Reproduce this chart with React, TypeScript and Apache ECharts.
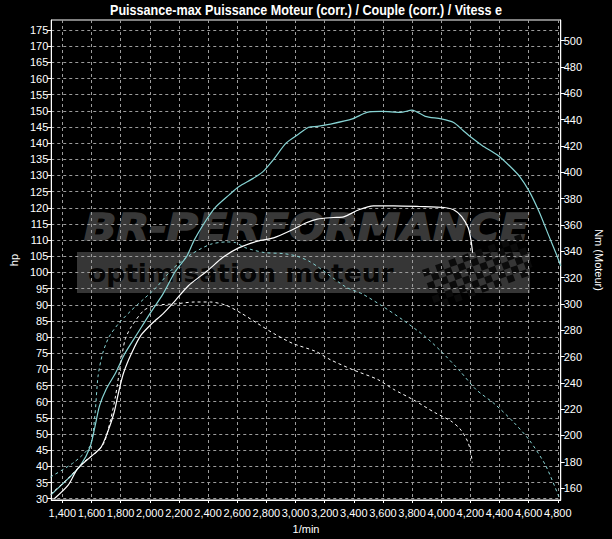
import React, { useEffect, useRef } from "react";
import * as echarts from "echarts";

const TITLE = "Puissance-max Puissance Moteur (corr.) / Couple (corr.) / Vitess e";
const X_NAME = "1/min";
const Y_LEFT_NAME = "hp";
const Y_RIGHT_NAME = "Nm (Moteur)";

const X_TICKS = [1400, 1600, 1800, 2000, 2200, 2400, 2600, 2800, 3000, 3200, 3400, 3600, 3800, 4000, 4200, 4400, 4600, 4800];
const HP_TICKS = [30, 35, 40, 45, 50, 55, 60, 65, 70, 75, 80, 85, 90, 95, 100, 105, 110, 115, 120, 125, 130, 135, 140, 145, 150, 155, 160, 165, 170, 175];
const NM_TICKS = [160, 180, 200, 220, 240, 260, 280, 300, 320, 340, 360, 380, 400, 420, 440, 460, 480, 500];

// Power after (cyan solid), hp
const rpmPowerAfter = [1324, 1440, 1525, 1590, 1625, 1655, 1700, 1765, 1830, 1915, 2000, 2090, 2175, 2255, 2305, 2370, 2450, 2545, 2610, 2710, 2775, 2850, 2935, 3015, 3090, 3150, 3240, 3390, 3490, 3590, 3720, 3800, 3890, 4000, 4085, 4150, 4205, 4280, 4390, 4475, 4540, 4605, 4670, 4735, 4790, 4820];
const hpPowerAfter = [31.3, 36.2, 40.3, 45.9, 52.5, 58.7, 63.8, 68.9, 75, 81.1, 87.2, 93.3, 100.3, 105.1, 110, 115, 120.1, 124, 126.5, 129.1, 131.1, 135, 140, 142.6, 144.9, 145.2, 145.9, 147.5, 149.5, 149.8, 149.5, 150.2, 148.3, 147.5, 146.4, 143.9, 141.8, 139.3, 136.2, 132.7, 129.6, 125, 118.9, 111.7, 105.6, 102];

// Power before (white solid), hp
const rpmPowerBefore = [1345, 1440, 1505, 1590, 1665, 1710, 1755, 1785, 1820, 1875, 1940, 2015, 2090, 2175, 2265, 2395, 2500, 2610, 2740, 2850, 2960, 3070, 3150, 3260, 3330, 3435, 3535, 3675, 3850, 4020, 4085, 4140, 4185, 4205, 4215];
const hpPowerBefore = [30, 34.2, 39.3, 42.8, 45.9, 50.5, 56.6, 62.7, 68.9, 75, 80.6, 84.2, 87.2, 91.3, 95.9, 100.5, 104.6, 107.6, 109.7, 110.7, 112.8, 115.3, 116.5, 117, 117.2, 119.4, 120.6, 120.6, 120.4, 120.1, 119.4, 117.3, 113.8, 109.7, 106.1];

// Torque after (cyan dashed), Nm
const rpmTorqueAfter = [1319, 1482, 1591, 1623, 1645, 1677, 1721, 1786, 1873, 1960, 2046, 2155, 2285, 2416, 2524, 2589, 2654, 2784, 2914, 3001, 3088, 3175, 3348, 3457, 3587, 3739, 3891, 4000, 4130, 4238, 4369, 4499, 4607, 4716, 4807];
const nmTorqueAfter = [168.5, 179.8, 192.3, 214.9, 245, 262.5, 275, 285, 295, 303.8, 312.6, 326.4, 337.7, 345.2, 347, 346.5, 342.7, 339, 338.2, 336.5, 332.7, 326.4, 312.6, 307.6, 298.9, 287.6, 275, 263.8, 248.7, 235, 223.7, 209.8, 196.1, 177.3, 153.5];

// Torque before (white dashed), Nm
const rpmTorqueBefore = [1319, 1439, 1547, 1634, 1688, 1732, 1765, 1797, 1830, 1873, 1960, 2046, 2177, 2307, 2416, 2524, 2632, 2741, 2850, 2979, 3140, 3240, 3392, 3565, 3674, 3804, 3956, 4065, 4130, 4184, 4206, 4213];
const nmTorqueBefore = [155.3, 167.3, 179.8, 187.3, 194.8, 212.4, 229.9, 252.5, 272.6, 282.6, 295.1, 298.9, 300, 301.4, 301.4, 298.9, 292.6, 285, 277.5, 270, 263.8, 257.5, 250, 242.5, 235, 227.4, 217.4, 211.1, 204.9, 194.8, 184.8, 179.3];

const zip = (xs: number[], ys: number[]) => xs.map((x, i) => [x, ys[i]]);

const FONT = "'Liberation Sans', Arial, sans-serif";
const CYAN = "#86d3d3";
const GRID_COLOR = "#9c9c9c";

function checker() {
  const items: any[] = [];
  const s = 7;
  for (let r = 0; r < 6; r++) {
    for (let c = 0; c < 15; c++) {
      if ((r + c) % 2 === 0) {
        items.push({
          type: "rect",
          z: -8,
          shape: { x: c * s - 52, y: r * s - 21, width: s, height: s },
          style: { fill: "#0b0b0b" },
        });
      }
    }
  }
  return items;
}

export default function App() {
  const ref = useRef<HTMLDivElement>(null);
  useEffect(() => {
    if (!ref.current) return;
    const chart = echarts.init(ref.current, undefined, { renderer: "svg" });
    const lineBase = { type: "line", showSymbol: false, symbol: "none", smooth: 0.25, z: 3 };
    chart.setOption({
      animation: false,
      backgroundColor: "#000",
      grid: {
        left: 39,
        right: 36,
        top: 20,
        bottom: 34,
        show: true,
        borderColor: "#fff",
        borderWidth: 1,
        backgroundColor: "transparent",
      },
      graphic: [
        {
          type: "text",
          x: 306,
          y: 10,
          scaleX: 0.9,
          style: {
            text: TITLE,
            fill: "#fff",
            font: "bold 14px 'Liberation Sans', Arial, sans-serif",
            align: "center",
            textAlign: "center",
            verticalAlign: "middle",
            textVerticalAlign: "middle",
          },
        },
        {
          type: "rect",
          z: -10,
          shape: { x: 77, y: 252, width: 453, height: 41 },
          style: { fill: "#363636" },
        },
        {
          type: "text",
          z: -9,
          x: 84,
          y: 227,
          scaleX: 1.12,
          style: {
            text: "BR-PERFORMANCE",
            fill: "#383838",
            stroke: "#383838",
            lineWidth: 1.5,
            font: "italic bold 38px 'DejaVu Sans', sans-serif",
            verticalAlign: "middle",
            textVerticalAlign: "middle",
          },
        },
        {
          type: "text",
          z: -9,
          x: 88,
          y: 273,
          scaleX: 1.06,
          style: {
            text: "optimisation moteur",
            fill: "#050505",
            font: "bold 25px 'DejaVu Sans', sans-serif",
            verticalAlign: "middle",
            textVerticalAlign: "middle",
          },
        },
        {
          type: "group",
          x: 478,
          y: 272,
          rotation: 0.35,
          z: -8,
          children: checker(),
        },
      ],
      xAxis: {
        type: "value",
        min: 1324,
        max: 4820,
        name: X_NAME,
        nameLocation: "middle",
        nameGap: 23,
        nameTextStyle: { color: "#fff", fontFamily: FONT, fontSize: 11 },
        axisLine: { show: true, lineStyle: { color: "#fff", width: 1 } },
        axisTick: { show: true, length: 3, customValues: X_TICKS, lineStyle: { color: "#fff" } },
        axisLabel: {
          customValues: X_TICKS,
          showMinLabel: true,
          showMaxLabel: true,
          hideOverlap: false,
          color: "#fff",
          fontFamily: FONT,
          fontSize: 11,
          margin: 7,
          formatter: (v: number) => v.toLocaleString("en-US"),
        },
        splitLine: { show: true, lineStyle: { color: GRID_COLOR, type: [3, 3], width: 1 } },
      },
      yAxis: [
        {
          type: "value",
          position: "left",
          min: 29.6,
          max: 178.1,
          name: Y_LEFT_NAME,
          nameLocation: "middle",
          nameGap: 27,
          nameTextStyle: { color: "#fff", fontFamily: FONT, fontSize: 11 },
          axisLine: { show: true, lineStyle: { color: "#fff", width: 1 } },
          axisTick: { show: true, length: 4, customValues: HP_TICKS, lineStyle: { color: "#fff" } },
          axisLabel: { customValues: HP_TICKS, showMinLabel: true, showMaxLabel: true, color: "#fff", fontFamily: FONT, fontSize: 11, margin: 3 },
          splitLine: { show: true, lineStyle: { color: GRID_COLOR, type: [3, 3], width: 1 } },
        },
        {
          type: "value",
          position: "right",
          min: 151,
          max: 515.6,
          name: Y_RIGHT_NAME,
          nameLocation: "middle",
          nameRotate: -90,
          nameGap: 26,
          nameTextStyle: { color: "#fff", fontFamily: FONT, fontSize: 11 },
          axisLine: { show: true, lineStyle: { color: "#fff", width: 1 } },
          axisTick: { show: true, length: 4, customValues: NM_TICKS, lineStyle: { color: "#fff" } },
          axisLabel: { customValues: NM_TICKS, showMinLabel: true, showMaxLabel: true, color: "#fff", fontFamily: FONT, fontSize: 11, margin: 3 },
          splitLine: { show: false },
        },
      ],
      series: [
        {
          ...lineBase,
          name: "Puissance Moteur (corr.)",
          yAxisIndex: 0,
          data: zip(rpmPowerAfter, hpPowerAfter),
          lineStyle: { color: CYAN, width: 1.2 },
          itemStyle: { color: CYAN },
        },
        {
          ...lineBase,
          name: "Puissance-max",
          yAxisIndex: 0,
          data: zip(rpmPowerBefore, hpPowerBefore),
          lineStyle: { color: "#fff", width: 1.2 },
          itemStyle: { color: "#fff" },
        },
        {
          ...lineBase,
          name: "Couple (corr.)",
          yAxisIndex: 1,
          data: zip(rpmTorqueAfter, nmTorqueAfter),
          lineStyle: { color: CYAN, width: 1, type: [3, 3] },
          itemStyle: { color: CYAN },
        },
        {
          ...lineBase,
          name: "Couple",
          yAxisIndex: 1,
          data: zip(rpmTorqueBefore, nmTorqueBefore),
          lineStyle: { color: "#fff", width: 1, type: [3, 3] },
          itemStyle: { color: "#fff" },
        },
      ],
    });
    return () => chart.dispose();
  }, []);
  return (
    <div
      ref={ref}
      style={{ position: "absolute", left: 0, top: 0, width: 612, height: 539, background: "#000" }}
    />
  );
}
